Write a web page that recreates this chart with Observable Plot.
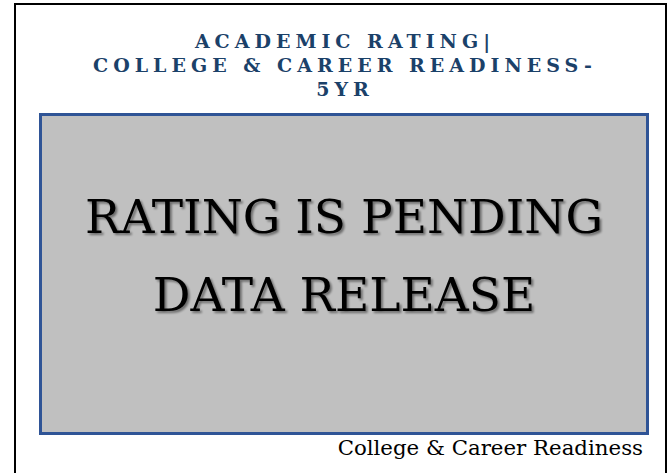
<!DOCTYPE html>
<html>
<head>
<meta charset="utf-8">
<script src="https://cdn.jsdelivr.net/npm/d3@7"></script>
<script src="https://cdn.jsdelivr.net/npm/@observablehq/plot@0.6"></script>
<style>
  html, body { margin: 0; padding: 0; background: #fff; }
  #wrap { position: relative; width: 671px; height: 473px; overflow: hidden; }
  #border { position: absolute; left: 14px; top: 3px; width: 653px; height: 490px;
            border: 2px solid #000; border-bottom: none; box-sizing: border-box; }
  #title { position: absolute; left: 14px; width: 657px; top: 29px; text-align: center;
           font-family: "DejaVu Serif", serif; font-weight: bold; font-size: 19px;
           line-height: 24px; letter-spacing: 5px; color: #1b4169; }
  #title div { padding-left: 5px; }
  #chart { position: absolute; left: 0; top: 104px; }
  #caption { position: absolute; right: 28px; top: 436px; font-family: "DejaVu Serif", serif;
             font-size: 21.3px; line-height: 24px; color: #000; white-space: nowrap; }
</style>
</head>
<body>
<div id="wrap">
  <div id="border"></div>
  <div id="title"></div>
  <div id="chart"></div>
  <div id="caption"></div>
</div>
<svg width="0" height="0" style="position:absolute">
  <defs>
    <filter id="msgShadow" x="-20%" y="-30%" width="140%" height="160%">
      <feGaussianBlur in="SourceAlpha" stdDeviation="1.3" result="blur"/>
      <feOffset in="blur" dx="2" dy="2" result="off"/>
      <feComponentTransfer in="off" result="soft">
        <feFuncA type="linear" slope="0.45"/>
      </feComponentTransfer>
      <feMerge>
        <feMergeNode in="soft"/>
        <feMergeNode in="SourceGraphic"/>
      </feMerge>
    </filter>
  </defs>
</svg>
<script>
const titleLines = ["ACADEMIC RATING|", "COLLEGE & CAREER READINESS-", "5YR"];
const messageLines = ["RATING IS PENDING", "DATA RELEASE"];
const captionText = "College & Career Readiness";

const titleEl = document.getElementById("title");
titleLines.forEach(t => {
  const d = document.createElement("div");
  d.textContent = t;
  titleEl.appendChild(d);
});
document.getElementById("caption").textContent = captionText;

const message = [messageLines.join("\n")];

const chart = Plot.plot({
  width: 671,
  height: 340,
  marginTop: 10,
  marginBottom: 11,
  marginLeft: 40,
  marginRight: 24,
  style: { background: "transparent", overflow: "visible" },
  marks: [
    Plot.frame({ fill: "#c0c0c0", stroke: "#2f5496", strokeWidth: 3 }),
    Plot.text(message, {
      text: d => d, frameAnchor: "middle", dy: -27, lineHeight: 1.66,
      fontSize: 47, fontFamily: "DejaVu Serif", fill: "#000"
    })
  ]
});
document.getElementById("chart").appendChild(chart);
d3.select(chart).selectAll("text").attr("filter", "url(#msgShadow)");
</script>
</body>
</html>
